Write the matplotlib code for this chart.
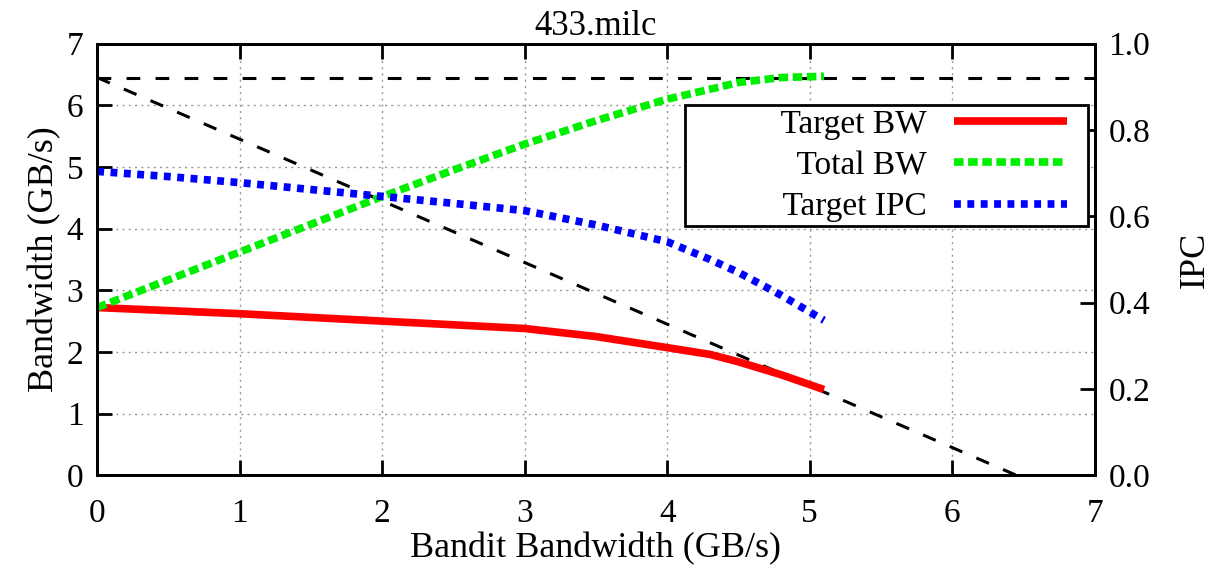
"""
433.milc: target/total bandwidth and target IPC vs bandit bandwidth.
"""

import matplotlib
matplotlib.use("Agg")
import matplotlib.pyplot as plt
from matplotlib.legend_handler import HandlerLine2D

plt.rcParams["font.family"] = ["Liberation Serif", "DejaVu Serif"]

# Bandit bandwidth (GB/s)
bandit_bw = [0.0, 0.5, 1.0, 1.5, 2.0, 2.5, 3.0, 3.5, 4.0, 4.3, 4.5, 4.8, 5.1]
# Target bandwidth (GB/s)
target_bw = [2.72, 2.67, 2.62, 2.56, 2.50, 2.44, 2.38, 2.25, 2.07, 1.96, 1.84, 1.63, 1.39]
# Total bandwidth (GB/s)
total_bw = [2.72, 3.17, 3.62, 4.07, 4.52, 4.95, 5.37, 5.75, 6.10, 6.26, 6.37, 6.45, 6.47]
# Target IPC
target_ipc = [0.704, 0.692, 0.678, 0.662, 0.646, 0.630, 0.613, 0.580, 0.541, 0.500, 0.470, 0.417, 0.359]

series_labels = ["Target BW", "Total BW", "Target IPC"]

# Peak bandwidth bound
peak_bw = 6.45
bound_x = [0.0, peak_bw]
bound_y = [peak_bw, 0.0]


def _shift_handle(handle, orig):
    # copy style, then pull the sample line left to leave a gap at the frame
    handle.update_from(orig)
    handle.set_xdata([x - 12.0 for x in handle.get_xdata()])


def main():
    fig, ax = plt.subplots(figsize=(12.15, 5.74), dpi=100)
    fig.subplots_adjust(left=0.080, right=0.901, top=0.924, bottom=0.172)
    ax2 = ax.twinx()

    dash_black = (0, (4.5, 5))
    ax.axhline(peak_bw, color="black", linestyle=dash_black, linewidth=2.2)
    ax.plot(bound_x, bound_y, color="black", linestyle=dash_black, linewidth=2.2)

    l1, = ax.plot(bandit_bw, target_bw, color="#ff0000", linewidth=5.5,
                  solid_capstyle="butt")
    l2, = ax.plot(bandit_bw, total_bw, color="#00ee00", linewidth=5.5,
                  linestyle=(0, (1.25, 0.6)))
    l3, = ax2.plot(bandit_bw, target_ipc, color="#0000ff", linewidth=5.5,
                   linestyle=(0, (0.9, 0.85)))

    ax.set_xlim(0, 7)
    ax.set_ylim(0, 7)
    ax2.set_ylim(0, 1.0)
    ax.set_xticks(range(8))
    ax.set_yticks(range(8))
    ax2.set_yticks([0.0, 0.2, 0.4, 0.6, 0.8, 1.0])
    ax2.set_yticklabels(["0.0", "0.2", "0.4", "0.6", "0.8", "1.0"])

    ax.grid(True, color="#999999", linestyle=(0, (1.5, 3)), linewidth=1.0)
    ax.tick_params(axis="both", direction="in", length=11, width=2,
                   labelsize=24, top=True, right=False, pad=10)
    ax.tick_params(axis="x", pad=17)
    ax2.tick_params(axis="y", direction="in", length=11, width=2,
                    labelsize=24, pad=10)
    for a in (ax, ax2):
        for spine in a.spines.values():
            spine.set_linewidth(2.0)

    ax.set_title("433.milc", fontsize=25, pad=6)
    ax.set_xlabel("Bandit Bandwidth (GB/s)", fontsize=26, labelpad=2)
    ax.set_ylabel("Bandwidth (GB/s)", fontsize=26, labelpad=4)
    ax2.set_ylabel("IPC", fontsize=26, labelpad=20)

    # gnuplot-style key: right-aligned text, wide box
    padded = [" " * 11 + s for s in series_labels]
    handler = HandlerLine2D(update_func=_shift_handle)
    leg = ax2.legend([l1, l2, l3], padded, loc="upper right",
                     bbox_to_anchor=(0.993, 0.857), fontsize=24,
                     markerfirst=False, handlelength=3.4, fancybox=False,
                     framealpha=1.0, edgecolor="black", borderpad=0.12,
                     labelspacing=0.32, handletextpad=1.3, borderaxespad=0,
                     handler_map={l1: handler, l2: handler, l3: handler})
    leg.get_frame().set_linewidth(2.0)

    fig.savefig("out.png", dpi=100)


if __name__ == "__main__":
    main()
